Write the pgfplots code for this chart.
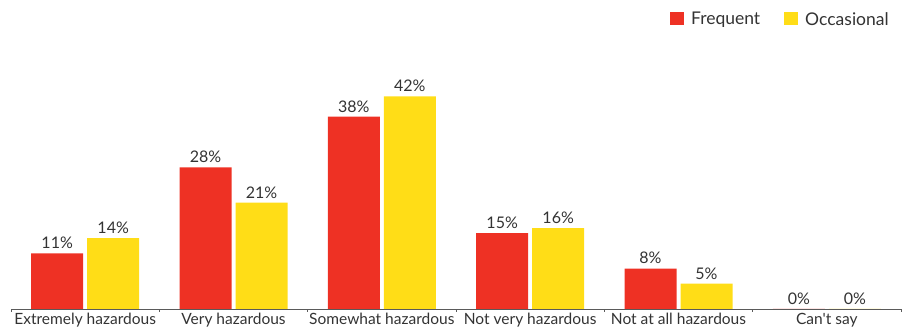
\documentclass[border=0pt]{standalone}
\usepackage{pgfplots}
\pgfplotsset{compat=1.18}
\usepackage{fontspec}
\setmainfont{Lato}[Ligatures=TeXOff]
\definecolor{freqred}{RGB}{238,49,36}
\definecolor{occyellow}{RGB}{255,221,23}
\definecolor{txtgray}{RGB}{51,51,51}
\definecolor{axgray}{RGB}{90,90,90}
\begin{document}
\begin{tikzpicture}
\path[use as bounding box] (0,0) rectangle (908pt,-336pt);
\begin{axis}[
  at={(11pt,-309pt)}, anchor=south west,
  scale only axis,
  width=890pt, height=253pt,
  xmin=-0.5, xmax=5.5,
  ymin=0, ymax=50,
  axis x line*=bottom,
  axis y line=none,
  x axis line style={-, draw=axgray, line width=0.8pt},
  xtick={0,...,5},
  xticklabels={Extremely hazardous, Very hazardous, Somewhat hazardous, Not very hazardous, Not at all hazardous, Can't say},
  major tick length=0pt,
  minor xtick={-0.5,0.5,...,5.5},
  minor tick length=3pt,
  tick align=inside,
  minor tick style={draw=axgray, line width=0.8pt},
  xticklabel style={font=\fontsize{15.5}{18}\selectfont, text=txtgray, yshift=-1pt},
  ybar,
  bar width=52pt,
  /pgf/number format/assume math mode=true,
  nodes near coords={\pgfmathprintnumber{\pgfplotspointmeta}\%},
  nodes near coords style={font=\fontsize{16}{18}\selectfont, text=txtgray, anchor=south, yshift=1pt},
  clip=false,
  legend columns=2,
  legend style={draw=none, fill=none, at={(0.992,1.19)}, anchor=north east,
    font=\fontsize{17.5}{18}\selectfont, text=txtgray,
    /tikz/every odd column/.append style={column sep=5pt},
    /tikz/every even column/.append style={column sep=22pt}},
  legend image code/.code={\fill[#1] (0pt,-6pt) rectangle (14pt,7pt);},
]
\addplot[fill=freqred, draw=none, bar shift=-28pt] coordinates {
  (0,11) (1,28) (2,38) (3,15) (4,8) (5,0)};
\addplot[fill=occyellow, draw=none, bar shift=28pt] coordinates {
  (0,14) (1,21) (2,42) (3,16) (4,5) (5,0)};
\legend{Frequent, Occasional}
\end{axis}
\end{tikzpicture}
\end{document}
